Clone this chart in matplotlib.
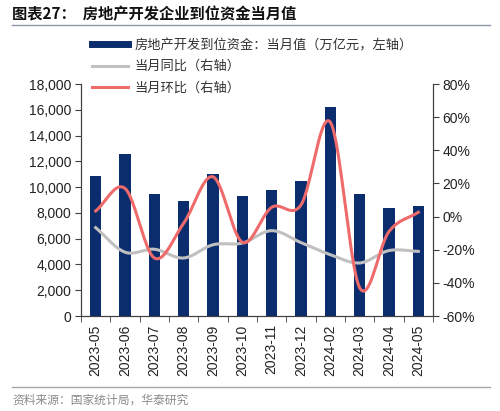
import numpy as np
import matplotlib
matplotlib.use("Agg")
import matplotlib.pyplot as plt
from matplotlib.lines import Line2D

plt.rcParams['font.family'] = ['Liberation Sans', 'Noto Sans CJK SC', 'DejaVu Sans']

categories = ["2023-05", "2023-06", "2023-07", "2023-08", "2023-09", "2023-10",
              "2023-11", "2023-12", "2024-02", "2024-03", "2024-04", "2024-05"]
funds = [10900, 12600, 9450, 8900, 11000, 9300, 9750, 10450, 16200, 9500, 8350, 8550]
yoy = [-6.7, -21.5, -19.7, -25.0, -17.0, -16.0, -8.5, -15.7, -23.0, -28.0, -20.5, -21.0]
mom = [3.4, 17.0, -25.0, -4.0, 24.0, -15.5, 5.6, 7.0, 57.0, -43.0, -9.0, 2.6]

left_ticks = [0, 2000, 4000, 6000, 8000, 10000, 12000, 14000, 16000, 18000]
right_ticks = [-60, -40, -20, 0, 20, 40, 60, 80]

legend_labels = ["房地产开发到位资金：当月值（万亿元，左轴）", "当月同比（右轴）", "当月环比（右轴）"]
title_text = "图表27：  房地产开发企业到位资金当月值"
source_text = "资料来源：国家统计局，华泰研究"

BAR = "#0B2D6E"
RED = "#EF6B6B"
GRAY = "#C0C0C0"
AX = "#404040"


def smooth(xs, ys, n=20):
    xs = np.asarray(xs, float)
    ys = np.asarray(ys, float)
    P = np.column_stack([xs, ys])
    P = np.vstack([2 * P[0] - P[1], P, 2 * P[-1] - P[-2]])
    out = []
    for i in range(1, len(P) - 2):
        p0, p1, p2, p3 = P[i - 1], P[i], P[i + 1], P[i + 2]
        t = np.linspace(0, 1, n, endpoint=False)[:, None]
        seg = 0.5 * ((2 * p1) + (-p0 + p2) * t + (2 * p0 - 5 * p1 + 4 * p2 - p3) * t ** 2
                     + (-p0 + 3 * p1 - 3 * p2 + p3) * t ** 3)
        out.append(seg)
    out.append(P[-2][None, :])
    out = np.vstack(out)
    return out[:, 0], out[:, 1]


fig = plt.figure(figsize=(5.0, 4.11), dpi=100)
W, H = 500, 411
ax = fig.add_axes([81 / W, 1 - 316 / H, (433 - 81) / W, (316 - 84) / H])
x = np.arange(len(categories))
ax.bar(x, funds, width=0.38, color=BAR, zorder=2)
ax.set_xlim(-0.5, len(categories) - 0.5)
ax.set_ylim(0, 18000)
ax.set_yticks(left_ticks)
ax.set_yticklabels([f"{v:,}" for v in left_ticks], fontsize=10, color="#222222")
ax.set_xticks(x)
ax.set_xticklabels(categories, rotation=90, fontsize=10, color="#222222")
ax.tick_params(axis='x', length=0, pad=6)
ax.set_xticks(np.arange(-0.5, len(categories), 1), minor=True)
ax.tick_params(axis='x', which='minor', length=4, color=AX, direction='out')
ax.tick_params(axis='y', length=4, color=AX, direction='out', pad=3)
for s in ['left', 'bottom', 'right']:
    ax.spines[s].set_color(AX)
    ax.spines[s].set_linewidth(0.8)
ax.spines['top'].set_visible(False)

ax2 = ax.twinx()
ax2.set_ylim(-60, 80)
ax2.set_yticks(right_ticks)
ax2.set_yticklabels([f"{v}%" for v in right_ticks], fontsize=10, color="#222222")
ax2.tick_params(axis='y', length=4, color=AX, direction='out', pad=3)
for s in ['left', 'bottom', 'right']:
    ax2.spines[s].set_color(AX)
    ax2.spines[s].set_linewidth(0.8)
ax2.spines['top'].set_visible(False)

sx, sy = smooth(x, yoy)
ax2.plot(sx, sy, color=GRAY, lw=2.2, zorder=3)
sx, sy = smooth(x, mom)
ax2.plot(sx, sy, color=RED, lw=2.2, zorder=4)

handles = [Line2D([], [], color=BAR, lw=5),
           Line2D([], [], color=GRAY, lw=2.2),
           Line2D([], [], color=RED, lw=2.2)]
leg = fig.legend(handles, legend_labels, loc='upper left',
                 bbox_to_anchor=(92 / W, 1 - 39 / H), frameon=False,
                 prop={'family': ['Noto Sans CJK SC'], 'size': 9.5},
                 handlelength=2.75, handletextpad=0.45, labelspacing=0.62,
                 borderaxespad=0, borderpad=0)
for t in leg.get_texts():
    t.set_color("#333333")

fig.text(12 / W, 1 - 14 / H, title_text, fontsize=11, fontweight='bold',
         family=['Noto Sans CJK SC'], va='center', ha='left', color="#111111")
fig.add_artist(Line2D([12 / W, 490 / W], [1 - 25 / H, 1 - 25 / H], color="#8C96A8", lw=1.0))
fig.add_artist(Line2D([12 / W, 490 / W], [1 - 387 / H, 1 - 387 / H], color="#A8A8A8", lw=1.0))
fig.text(12 / W, 1 - 400 / H, source_text, fontsize=8.5, family=['Noto Sans CJK SC'],
         va='center', ha='left', color="#8A8A8A")

fig.savefig("out.png", dpi=100)
